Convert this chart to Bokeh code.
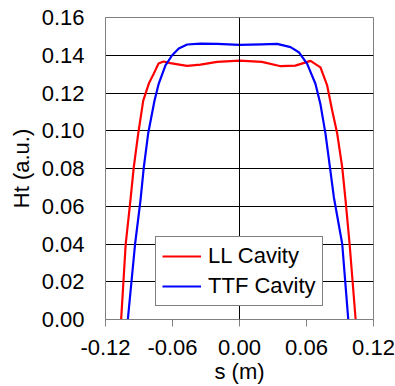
from bokeh.plotting import figure
from bokeh.models import FixedTicker, Span, Legend, LegendItem, Range1d
from bokeh.embed import file_html
from bokeh.resources import INLINE

# LL Cavity (red)
ll_s = [-0.106, -0.1019, -0.0977, -0.0947, -0.0907, -0.0862, -0.0812, -0.077, -0.0725, -0.068,
        -0.062, -0.047, -0.035, -0.02, 0.0, 0.02, 0.037, 0.05, 0.0636, 0.0725, 0.0785, 0.083,
        0.0875, 0.092, 0.095, 0.0986, 0.104]
ll_ht = [0.0, 0.040, 0.063, 0.0806, 0.0985, 0.116, 0.125, 0.130, 0.1356, 0.1367,
         0.1358, 0.1344, 0.135, 0.1365, 0.1372, 0.1365, 0.1342, 0.1345, 0.137, 0.1336, 0.124, 0.1107,
         0.0985, 0.0806, 0.063, 0.040, 0.0]

# TTF Cavity (blue)
ttf_s = [-0.100, -0.0935, -0.0887, -0.0857, -0.0818, -0.0761, -0.0723, -0.0663, -0.0603, -0.0544,
         -0.0469, -0.035, -0.02, 0.0, 0.02, 0.0337, 0.0457, 0.0531, 0.0606, 0.068, 0.0725, 0.077,
         0.081, 0.0845, 0.092, 0.0974]
ttf_ht = [0.0, 0.040, 0.063, 0.0806, 0.0985, 0.116, 0.125, 0.1346, 0.140, 0.1436,
          0.1457, 0.1462, 0.146, 0.1455, 0.1458, 0.146, 0.1443, 0.1416, 0.1354, 0.1249, 0.114, 0.0985,
          0.0806, 0.0648, 0.040, 0.0]

x_ticks = [-0.12, -0.06, 0.0, 0.06, 0.12]
y_ticks = [0.0, 0.02, 0.04, 0.06, 0.08, 0.10, 0.12, 0.14, 0.16]
x_labels = {-0.12: "-0.12", -0.06: "-0.06", 0.0: "0.00", 0.06: "0.06", 0.12: "0.12"}
y_labels = {t: "%.2f" % t for t in y_ticks}
x_title = "s (m)"
y_title = "Ht (a.u.)"

FONT = "Liberation Sans"

p = figure(width=395, height=386, output_backend="svg", toolbar_location=None,
           x_range=Range1d(-0.12, 0.12), y_range=Range1d(0.0, 0.16),
           min_border_left=105, min_border_right=22, min_border_top=17, min_border_bottom=67)

p.background_fill_color = "white"
p.border_fill_color = "white"
p.outline_line_color = "#808080"
p.outline_line_width = 1

# grids
p.xgrid.visible = False
p.ygrid.ticker = FixedTicker(ticks=[0.02, 0.04, 0.06, 0.08, 0.10, 0.12, 0.14])
p.ygrid.grid_line_color = "black"
p.ygrid.grid_line_width = 1
p.add_layout(Span(location=0.0, dimension="height", line_color="black", line_width=1))

# x axis
xa = p.xaxis[0]
xa.ticker = FixedTicker(ticks=x_ticks)
xa.major_label_overrides = x_labels
xa.axis_line_color = "#808080"
xa.major_tick_line_color = "#808080"
xa.major_tick_out = 7
xa.major_tick_in = 0
xa.minor_tick_out = 0
xa.minor_tick_in = 0
xa.major_label_standoff = 13
xa.major_label_text_font = FONT
xa.major_label_text_font_size = "22px"
xa.major_label_text_color = "black"
xa.axis_label = x_title
xa.axis_label_text_font = FONT
xa.axis_label_text_font_size = "22px"
xa.axis_label_text_font_style = "normal"
xa.axis_label_text_color = "black"
xa.axis_label_standoff = 1

# y axis
ya = p.yaxis[0]
ya.ticker = FixedTicker(ticks=y_ticks)
ya.major_label_overrides = y_labels
ya.axis_line_color = "#808080"
ya.major_tick_out = 0
ya.major_tick_in = 0
ya.minor_tick_out = 0
ya.minor_tick_in = 0
ya.major_label_standoff = 21
ya.major_label_text_font = FONT
ya.major_label_text_font_size = "22px"
ya.major_label_text_color = "black"
ya.axis_label = y_title
ya.axis_label_text_font = FONT
ya.axis_label_text_font_size = "22px"
ya.axis_label_text_font_style = "normal"
ya.axis_label_text_color = "black"
ya.axis_label_standoff = 5

r_ll = p.line(ll_s, ll_ht, line_color="#ff0000", line_width=2.2)
r_ttf = p.line(ttf_s, ttf_ht, line_color="#0000ff", line_width=2.2)

legend = Legend(items=[LegendItem(label="LL Cavity", renderers=[r_ll]),
                       LegendItem(label="TTF Cavity", renderers=[r_ttf])],
                location=(50, 13))
legend.label_text_font = FONT
legend.label_text_font_size = "22px"
legend.label_text_color = "black"
legend.border_line_color = "black"
legend.border_line_width = 1
legend.background_fill_color = "white"
legend.background_fill_alpha = 1.0
legend.padding = 6
legend.spacing = 4
legend.label_height = 20
legend.glyph_height = 20
legend.glyph_width = 39
legend.label_standoff = 7
legend.margin = 0
p.add_layout(legend, "center")

open("out.html", "w").write(file_html(p, INLINE))
